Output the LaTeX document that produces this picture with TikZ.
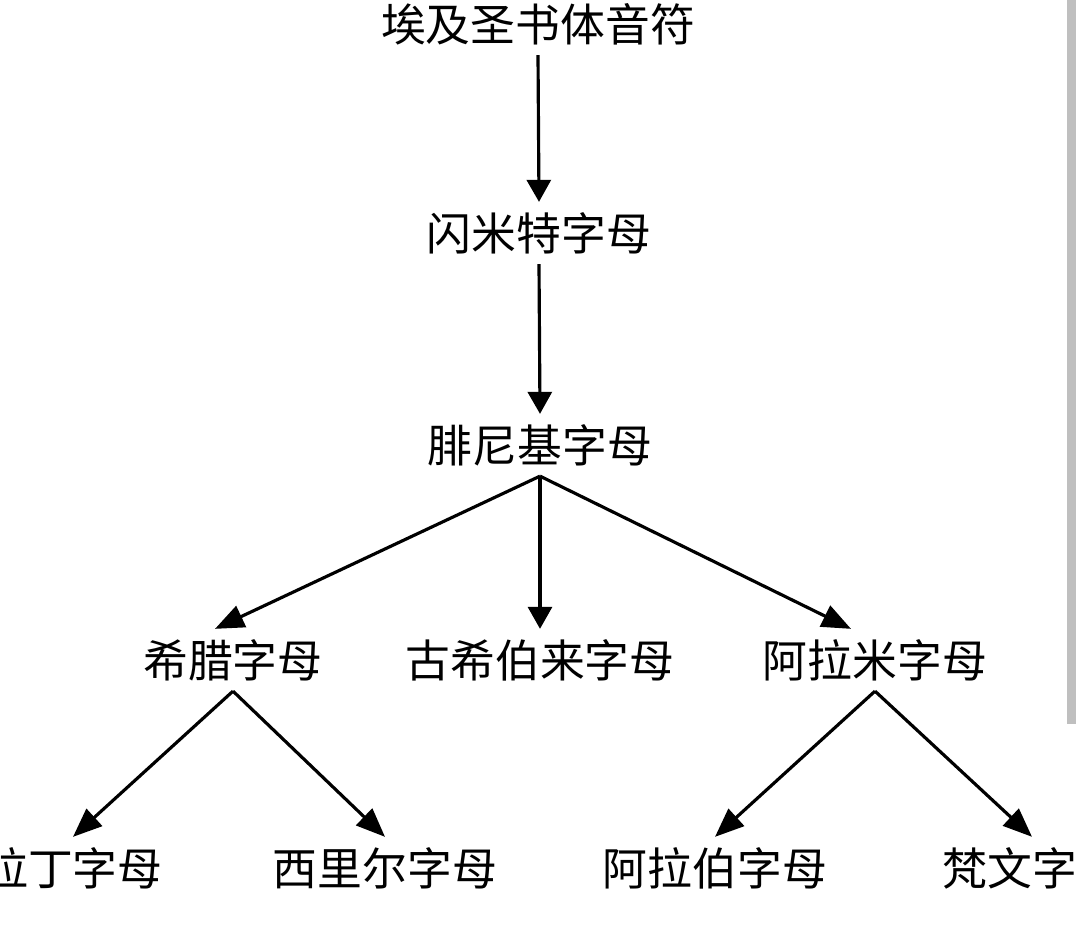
\documentclass[tikz,border=0pt]{standalone}
\usepackage{fontspec}
\newfontfamily\cjk{Noto Sans CJK SC}
\usepackage{tikz}
\usetikzlibrary{arrows.meta}

\tikzset{
  script/.style={inner sep=0.2cm, font=\cjk\fontsize{25.5pt}{30pt}\selectfont},
  downarr/.style={line width=1.8pt, -{Triangle[length=0.44cm,width=0.48cm]}},
  slantarr/.style={line width=1.8pt, -{Triangle[length=0.58cm,width=0.46cm]}}
}

\begin{document}
\begin{tikzpicture}
  \useasboundingbox (0,0) rectangle (21.52,-18.68);
  \fill[gray!50] (21.34,0) rectangle (21.52,-14.48);

  \node[script] (egypt)  at (10.76,-0.48)  {埃及圣书体音符};
  \node[script] (semit)  at (10.78,-4.66)  {闪米特字母};
  \node[script] (phoen)  at (10.80,-8.90)  {腓尼基字母};

  \node[script] (greek)  at (4.66,-13.20)  {希腊字母};
  \node[script] (hebrew) at (10.80,-13.20) {古希伯来字母};
  \node[script] (aram)   at (17.50,-13.20) {阿拉米字母};

  \node[script] (latin)  at (1.46,-17.36)  {拉丁字母};
  \node[script] (cyril)  at (7.70,-17.36)  {西里尔字母};
  \node[script] (arab)   at (14.30,-17.36) {阿拉伯字母};
  \node[script] (sansk)  at (20.64,-17.36) {梵文字母};

  \draw[downarr] (egypt.south) -- (semit.north);
  \draw[downarr] (semit.south) -- (phoen.north);

  \draw[slantarr] (phoen.south) -- ([xshift=-0.36cm]greek.north);
  \draw[downarr]  (phoen.south) -- (hebrew.north);
  \draw[slantarr] (phoen.south) -- ([xshift=-0.48cm]aram.north);

  \foreach \kid in {latin,cyril} {
    \draw[slantarr] (greek.south) -- (\kid.north);
  }
  \foreach \kid in {arab,sansk} {
    \draw[slantarr] (aram.south) -- (\kid.north);
  }
\end{tikzpicture}
\end{document}
